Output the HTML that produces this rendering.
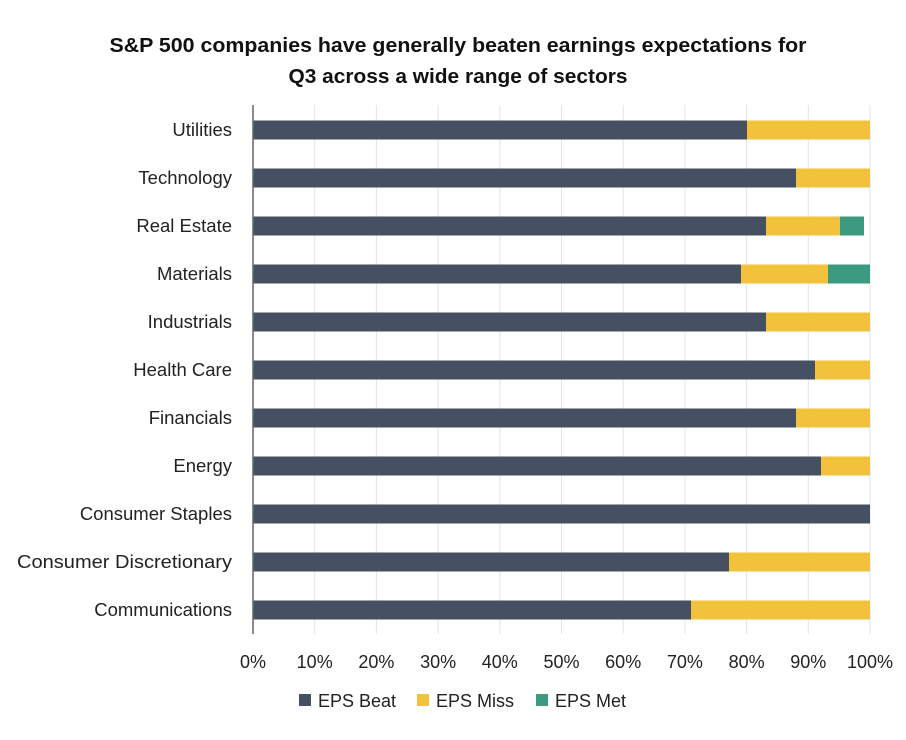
<!DOCTYPE html>
<html><head><meta charset="utf-8"><style>
html,body{margin:0;padding:0;background:#fff;}
svg{display:block;font-family:"Liberation Sans",sans-serif;}
</style></head><body>
<svg width="906" height="740" viewBox="0 0 906 740">
<rect width="906" height="740" fill="#fff"/>
<g font-weight="bold" font-size="20" fill="#111" text-anchor="middle">
<text x="458" y="52" textLength="697" lengthAdjust="spacingAndGlyphs">S&amp;P 500 companies have generally beaten earnings expectations for</text>
<text x="458" y="83" textLength="339" lengthAdjust="spacingAndGlyphs">Q3 across a wide range of sectors</text>
</g>
<g stroke="#e3e3e3" stroke-width="1">
<line x1="314.7" y1="105" x2="314.7" y2="634"/><line x1="376.4" y1="105" x2="376.4" y2="634"/>
<line x1="438.1" y1="105" x2="438.1" y2="634"/><line x1="499.8" y1="105" x2="499.8" y2="634"/>
<line x1="561.5" y1="105" x2="561.5" y2="634"/><line x1="623.2" y1="105" x2="623.2" y2="634"/>
<line x1="684.9" y1="105" x2="684.9" y2="634"/><line x1="746.6" y1="105" x2="746.6" y2="634"/>
<line x1="808.3" y1="105" x2="808.3" y2="634"/><line x1="870" y1="105" x2="870" y2="634"/>
</g>
<g>
<rect x="253" y="120.5" width="494" height="19" fill="#465063"/><rect x="747" y="120.5" width="123" height="19" fill="#f2c23d"/>
<rect x="253" y="168.5" width="543" height="19" fill="#465063"/><rect x="796" y="168.5" width="74" height="19" fill="#f2c23d"/>
<rect x="253" y="216.5" width="513" height="19" fill="#465063"/><rect x="766" y="216.5" width="74" height="19" fill="#f2c23d"/><rect x="840" y="216.5" width="24" height="19" fill="#3b9a80"/>
<rect x="253" y="264.5" width="488" height="19" fill="#465063"/><rect x="741" y="264.5" width="87" height="19" fill="#f2c23d"/><rect x="828" y="264.5" width="42" height="19" fill="#3b9a80"/>
<rect x="253" y="312.5" width="513" height="19" fill="#465063"/><rect x="766" y="312.5" width="104" height="19" fill="#f2c23d"/>
<rect x="253" y="360.5" width="562" height="19" fill="#465063"/><rect x="815" y="360.5" width="55" height="19" fill="#f2c23d"/>
<rect x="253" y="408.5" width="543" height="19" fill="#465063"/><rect x="796" y="408.5" width="74" height="19" fill="#f2c23d"/>
<rect x="253" y="456.5" width="568" height="19" fill="#465063"/><rect x="821" y="456.5" width="49" height="19" fill="#f2c23d"/>
<rect x="253" y="504.5" width="617" height="19" fill="#465063"/>
<rect x="253" y="552.5" width="476" height="19" fill="#465063"/><rect x="729" y="552.5" width="141" height="19" fill="#f2c23d"/>
<rect x="253" y="600.5" width="438" height="19" fill="#465063"/><rect x="691" y="600.5" width="179" height="19" fill="#f2c23d"/>
</g>
<line x1="253" y1="105" x2="253" y2="634" stroke="#666" stroke-width="1.5"/>
<g font-size="18" fill="#222" text-anchor="middle">
<text x="253" y="668">0%</text><text x="314.7" y="668">10%</text><text x="376.4" y="668">20%</text>
<text x="438.1" y="668">30%</text><text x="499.8" y="668">40%</text><text x="561.5" y="668">50%</text>
<text x="623.2" y="668">60%</text><text x="684.9" y="668">70%</text><text x="746.6" y="668">80%</text>
<text x="808.3" y="668">90%</text><text x="870" y="668">100%</text>
</g>
<g font-size="18" fill="#222">
<rect x="299" y="694" width="12" height="12" fill="#465063"/><text x="318" y="707">EPS Beat</text>
<rect x="417" y="694" width="12" height="12" fill="#f2c23d"/><text x="436" y="707">EPS Miss</text>
<rect x="536" y="694" width="12" height="12" fill="#3b9a80"/><text x="555" y="707">EPS Met</text>
</g>
<g font-size="18.5" fill="#222" text-anchor="end">
<text x="232" y="136">Utilities</text>
<text x="232" y="184">Technology</text>
<text x="232" y="232">Real Estate</text>
<text x="232" y="280">Materials</text>
<text x="232" y="328">Industrials</text>
<text x="232" y="376">Health Care</text>
<text x="232" y="424">Financials</text>
<text x="232" y="472">Energy</text>
<text x="232" y="520">Consumer Staples</text>
<text x="232" y="568" textLength="215" lengthAdjust="spacingAndGlyphs">Consumer Discretionary</text>
<text x="232" y="616">Communications</text>
</g>
</svg>
</body></html>
